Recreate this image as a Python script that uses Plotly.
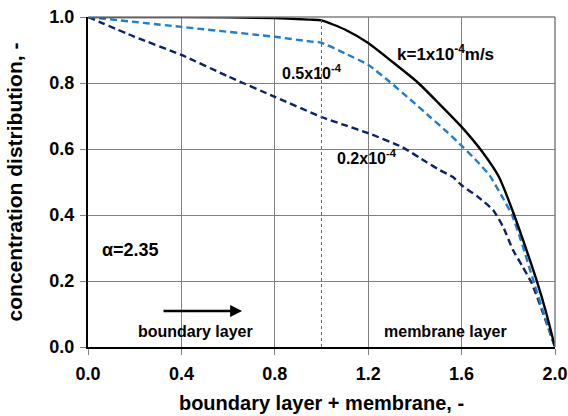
import plotly.graph_objects as go

x_k1 = [0.0, 0.4, 0.8, 0.95, 1.0, 1.1, 1.2, 1.3, 1.41, 1.5, 1.6, 1.69, 1.76, 1.82, 1.87, 1.92, 1.96, 2.0]
y_k1 = [1.0, 1.0, 0.997, 0.992, 0.99, 0.962, 0.921, 0.866, 0.803, 0.74, 0.667, 0.59, 0.515, 0.41, 0.31, 0.205, 0.11, 0.0]

x_k05 = [0.0, 0.4, 0.8, 0.95, 1.0, 1.1, 1.2, 1.293, 1.38, 1.465, 1.54, 1.606, 1.67, 1.72, 1.77, 1.816, 1.86, 1.91, 1.955, 2.0]
y_k05 = [1.0, 0.97, 0.94, 0.926, 0.922, 0.89, 0.855, 0.803, 0.75, 0.697, 0.65, 0.606, 0.56, 0.52, 0.46, 0.40, 0.31, 0.195, 0.095, 0.0]

x_k02 = [0.0, 0.2, 0.4, 0.6, 0.8, 1.0, 1.1, 1.2, 1.345, 1.45, 1.507, 1.563, 1.6, 1.67, 1.735, 1.778, 1.82, 1.86, 1.9, 1.95, 2.0]
y_k02 = [1.0, 0.94, 0.885, 0.82, 0.758, 0.697, 0.672, 0.648, 0.606, 0.56, 0.536, 0.515, 0.49, 0.455, 0.415, 0.364, 0.294, 0.245, 0.194, 0.1, 0.0]

x_ticks = [0.0, 0.4, 0.8, 1.2, 1.6, 2.0]
y_ticks = [0.0, 0.2, 0.4, 0.6, 0.8, 1.0]

fig = go.Figure()
fig.add_trace(go.Scatter(x=x_k02, y=y_k02, mode="lines",
                         line=dict(color="#0b2263", width=2.4, dash="7px,4px", shape="spline", smoothing=0.5)))
fig.add_trace(go.Scatter(x=x_k05, y=y_k05, mode="lines",
                         line=dict(color="#1a7fd0", width=2.4, dash="7px,4px", shape="spline", smoothing=0.5)))
fig.add_trace(go.Scatter(x=x_k1, y=y_k1, mode="lines",
                         line=dict(color="black", width=2.4, shape="spline", smoothing=0.5)))

font_b = "Liberation Sans, Arial, sans-serif"

fig.update_layout(
    width=568, height=416,
    margin=dict(l=88, r=13, t=17, b=69),
    paper_bgcolor="white", plot_bgcolor="white",
    showlegend=False,
    font=dict(family=font_b, color="black"),
    xaxis=dict(range=[0, 2.0], tickvals=x_ticks,
               ticktext=["<b>%.1f</b>" % v for v in x_ticks],
               showgrid=True, gridcolor="#808080", gridwidth=1,
               showline=True, linecolor="black", linewidth=2,
               ticks="outside", ticklen=6, tickcolor="#808080",
               tickfont=dict(size=18), automargin=False, ticklabelstandoff=3,
               title=dict(text="<b>boundary layer + membrane, -</b>", font=dict(size=20), standoff=13),
               zeroline=False),
    yaxis=dict(range=[0, 1.0], tickvals=y_ticks,
               ticktext=["<b>%.1f</b>" % v for v in y_ticks],
               showgrid=True, gridcolor="#808080", gridwidth=1,
               showline=True, linecolor="black", linewidth=2,
               ticks="outside", ticklen=6, tickcolor="#808080",
               tickfont=dict(size=18), automargin=False, ticklabelstandoff=2,
               title=dict(text="<b>concentration distribution, -</b>", font=dict(size=21), standoff=21),
               zeroline=False),
)

# top/right frame in gray
fig.add_shape(type="line", xref="paper", yref="paper", x0=0, x1=1, y0=1, y1=1,
              line=dict(color="#808080", width=1.5))
fig.add_shape(type="line", xref="paper", yref="paper", x0=1, x1=1, y0=0, y1=1,
              line=dict(color="#808080", width=1.5))
# dotted divider at x=1.0
fig.add_shape(type="line", xref="x", yref="paper", x0=1.0, x1=1.0, y0=0, y1=1,
              line=dict(color="#606060", width=1, dash="dot"))

ann = dict(showarrow=False)
f16 = dict(size=16, family=font_b, color="black")
f17 = dict(size=17, family=font_b, color="black")
fig.add_annotation(x=1.53, y=0.89, text="<b>k=1x10<sup>-4</sup>m/s</b>", font=f17, **ann)
fig.add_annotation(x=0.96, y=0.833, text="<b>0.5x10<sup>-4</sup></b>", font=f16, **ann)
fig.add_annotation(x=1.195, y=0.576, text="<b>0.2x10<sup>-4</sup></b>", font=f16, **ann)
fig.add_annotation(x=0.18, y=0.294, text="<b>α=2.35</b>", font=dict(size=18, family=font_b, color="black"), **ann)
fig.add_annotation(x=0.46, y=0.048, text="<b>boundary layer</b>", font=f16, **ann)
fig.add_annotation(x=1.533, y=0.048, text="<b>membrane layer</b>", font=f16, **ann)
fig.add_annotation(x=0.66, y=0.109, ax=0.317, ay=0.109, xref="x", yref="y", axref="x", ayref="y",
                   text="", showarrow=True, arrowhead=2, arrowsize=1, arrowwidth=2.4, arrowcolor="black")

fig.write_html("out.html")
